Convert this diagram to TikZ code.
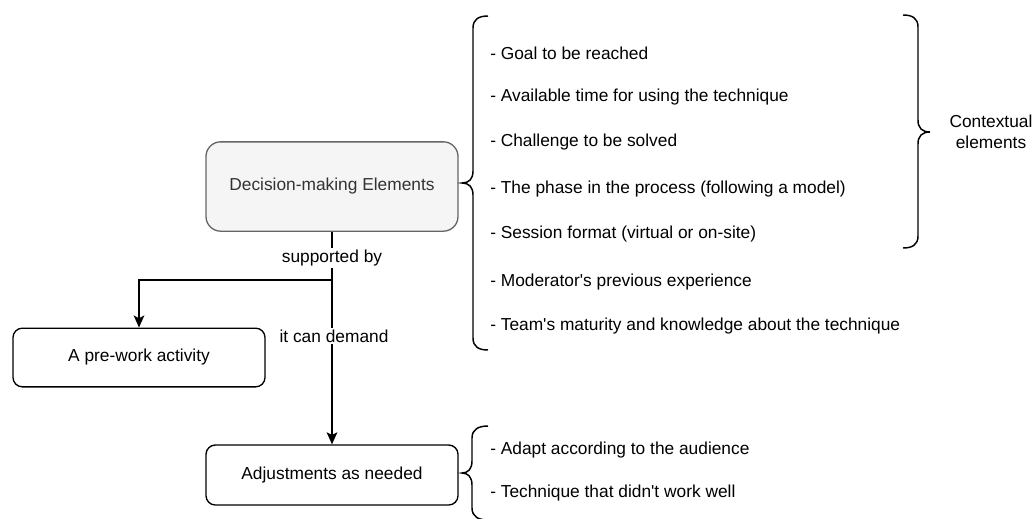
\documentclass[tikz,border=0pt]{standalone}
\usepackage{fontspec}
\setmainfont{Liberation Sans}
\usetikzlibrary{arrows.meta}
\definecolor{boxgray}{HTML}{F5F5F5}
\definecolor{linegray}{HTML}{666666}
\definecolor{textgray}{HTML}{333333}
\tikzset{
  box/.style={draw, rounded corners=7pt, minimum width=189pt, minimum height=44pt, fill=white, line width=1pt},
  lbl/.style={fill=white, inner sep=1.5pt},
  item/.style={anchor=west, inner sep=0pt},
  link/.style={line width=1.1pt, -{Stealth[length=9pt,width=8pt,inset=2pt]}},
  curly/.style={line width=1.1pt},
}
\begin{document}
\begin{tikzpicture}[x=0.75pt, y=-0.75pt, font=\fontsize{13pt}{16pt}\selectfont]
\useasboundingbox (0,0) rectangle (1035,518);
\clip (0,0) rectangle (1035,518);

% Draw boxes
\node[box, fill=boxgray, draw=linegray, text=textgray, minimum height=67pt, rounded corners=11pt] (dec) at (332,186.5) {Decision-making Elements};
\node[box] (pre) at (139,357.5) {A pre-work activity};
\node[box, minimum height=45pt] (adj) at (332,475) {Adjustments as needed};

% Draw connectors
\coordinate (split) at (332,280);
\draw[link] (dec.south) -- (split) -| (pre.north);
\draw[link] (dec.south) -- (adj.north);
\node[lbl] (supp) at (332,258) {supported by};
\node[lbl] (dem) at (334,336) {it can demand};

% Draw braces
\draw[curly] (488,16) .. controls (479,16) and (473,19) .. (473,28) -- (473,171) .. controls (473,179) and (469,183) .. (462,183) .. controls (469,183) and (473,187) .. (473,195) -- (473,338) .. controls (473,347) and (479,350) .. (488,350);
\draw[curly] (903,15) .. controls (912,15) and (918,18) .. (918,27) -- (918,120) .. controls (918,128) and (922,132) .. (930,132) .. controls (922,132) and (918,136) .. (918,144) -- (918,236) .. controls (918,245) and (912,248) .. (903,248);
\draw[curly] (488,426) .. controls (479,426) and (472,429) .. (472,438) -- (472,461) .. controls (472,469) and (468,473) .. (462,473) .. controls (468,473) and (472,477) .. (472,485) -- (472,508) .. controls (472,517) and (479,520) .. (488,520);

% List the elements
\node[item] (goal) at (490,53) {- Goal to be reached};
\node[item] (time) at (490,97) {- Available time for using the technique};
\node[item] (chal) at (490,142) {- Challenge to be solved};
\node[item] (phase) at (490,189) {- The phase in the process (following a model)};
\node[item] (sess) at (490,234) {- Session format (virtual or on-site)};
\node[item] (mod) at (490,282) {- Moderator\textquotesingle s previous experience};
\node[item] (team) at (490,326) {- Team\textquotesingle s maturity and knowledge about the technique};
\node[item] (adapt) at (490,450) {- Adapt according to the audience};
\node[item] (tech) at (490,493) {- Technique that didn\textquotesingle t work well};

% Label the group
\node[align=center] (ctx) at (991,132) {Contextual\\elements};
\end{tikzpicture}
\end{document}
